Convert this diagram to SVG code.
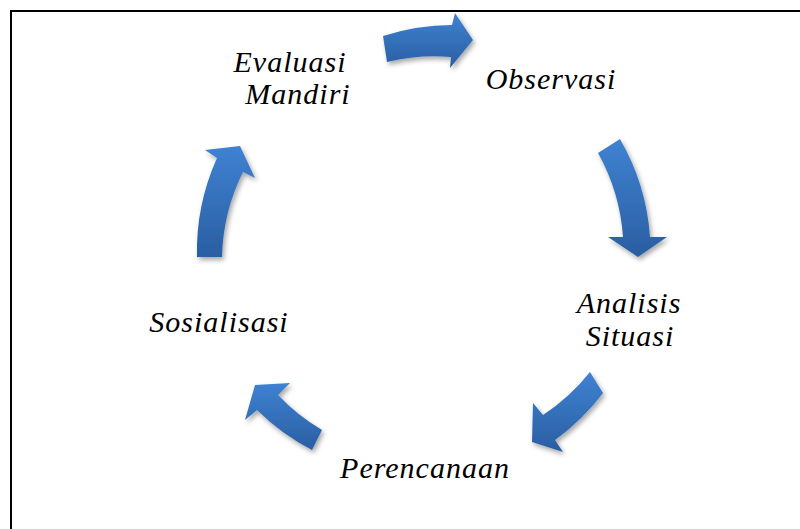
<svg xmlns="http://www.w3.org/2000/svg" width="800" height="529" viewBox="0 0 800 529">
  <defs>
    <linearGradient id="blueGrad" x1="0" y1="0" x2="0" y2="1">
      <stop offset="0" stop-color="#3f82d2"/>
      <stop offset="1" stop-color="#2a5ea2"/>
    </linearGradient>
    <filter id="shadow" x="-30%" y="-30%" width="160%" height="160%">
      <feDropShadow dx="2" dy="3" stdDeviation="2.5" flood-color="#000000" flood-opacity="0.35"/>
    </filter>
    <style>
      .lbl { font-family: "Liberation Serif", "Times New Roman", serif; font-style: italic; font-size: 30px; letter-spacing: 1px; fill: #000000; text-anchor: middle; }
      .arrow { fill: url(#blueGrad); filter: url(#shadow); }
      .frame { fill: none; stroke: #000000; stroke-width: 2; }
    </style>
  </defs>
  <rect x="0" y="0" width="800" height="529" fill="#ffffff"/>
  <path class="frame" d="M11,529 V11 H800"/>

  <g id="connectors">
    <path id="arrow-evaluasi-observasi" class="arrow" d="M383,36 A227,227 0 0 1 452,25 L455,13 L473,40 L450,68 L451,57 A201,201 0 0 0 387,62 Z"/>
    <path id="arrow-observasi-analisis" class="arrow" d="M620,139 A227,227 0 0 1 650,237 L667,237 L638,257 L608,237 L623,237 A201,201 0 0 0 598,153 Z"/>
    <path id="arrow-analisis-perencanaan" class="arrow" d="M603,393 A227,227 0 0 1 555,440 L563,452 L532,442 L533,403 L543,415 A201,201 0 0 0 590,372 Z"/>
    <path id="arrow-perencanaan-sosialisasi" class="arrow" d="M312,450 A227,227 0 0 1 257,410 L245,420 L255,385 L290,383 L278,395 A201,201 0 0 0 322,430 Z"/>
    <path id="arrow-sosialisasi-evaluasi" class="arrow" d="M197,257 A227,227 0 0 1 217,158 L205,150 L240,146 L255,178 L243,172 A201,201 0 0 0 222,257 Z"/>
  </g>

  <g id="node-evaluasi">
    <text class="lbl" x="290" y="72">Evaluasi</text>
    <text class="lbl" x="298" y="104">Mandiri</text>
  </g>
  <g id="node-observasi">
    <text class="lbl" x="551" y="89">Observasi</text>
  </g>
  <g id="node-analisis">
    <text class="lbl" x="629" y="313">Analisis</text>
    <text class="lbl" x="630" y="346">Situasi</text>
  </g>
  <g id="node-perencanaan">
    <text class="lbl" x="425" y="478">Perencanaan</text>
  </g>
  <g id="node-sosialisasi">
    <text class="lbl" x="219" y="332">Sosialisasi</text>
  </g>
</svg>
